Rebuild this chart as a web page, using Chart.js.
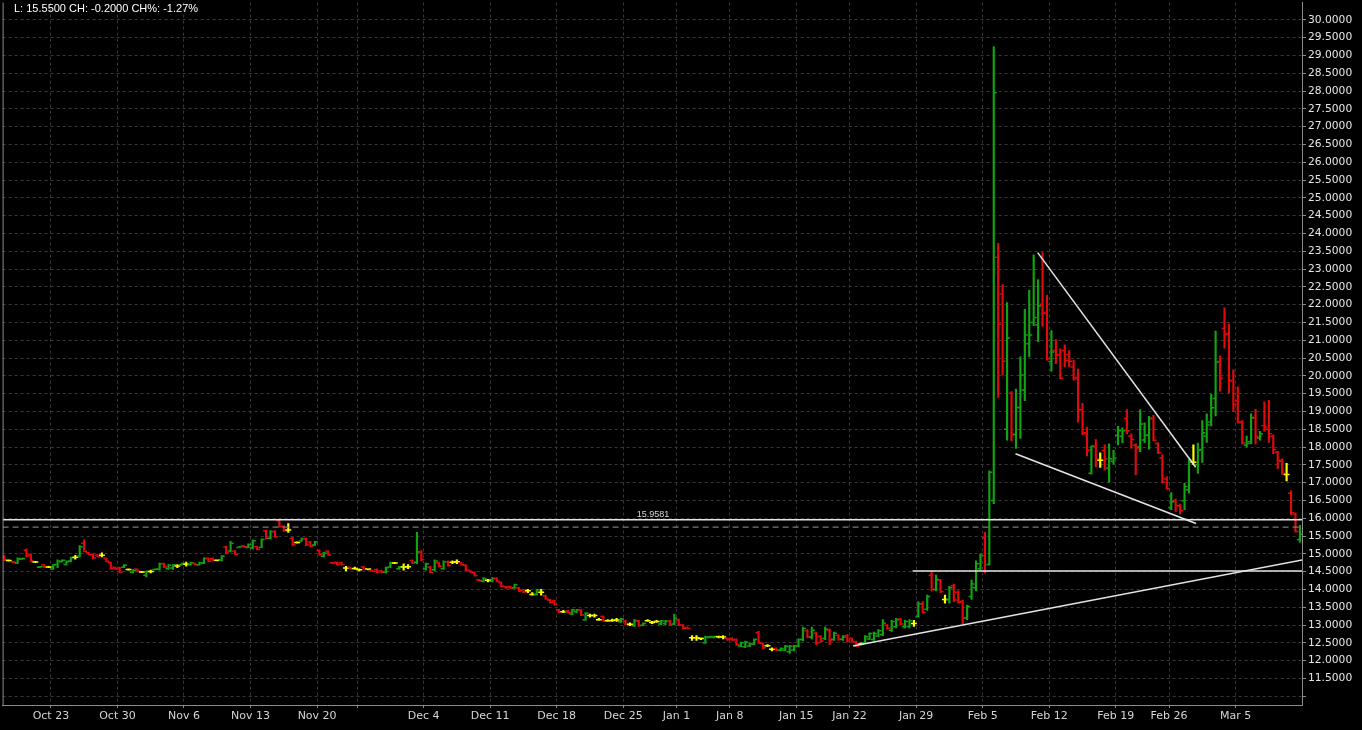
<!DOCTYPE html>
<html>
<head>
<meta charset="utf-8">
<title>VX</title>
<script src="https://cdn.jsdelivr.net/npm/chart.js@4.4.1/dist/chart.umd.min.js"></script>
<style>
  html, body { margin: 0; padding: 0; background: #000; overflow: hidden; }
  canvas { display: block; }
</style>
</head>
<body>
<canvas id="vxChart" width="1362" height="730"></canvas>
<script>
// Barres OHLC (3 barres par séance)
var opens = [
    14.93,14.81,14.78,14.74,14.85,15.10,14.97,14.77,14.62,14.69,
    14.63,14.57,14.70,14.78,14.70,14.80,14.90,14.93,15.30,15.03,
    14.98,14.96,14.96,14.88,14.75,14.62,14.60,14.62,14.56,14.48,
    14.57,14.49,14.40,14.50,14.56,14.56,14.72,14.58,14.60,14.66,
    14.69,14.71,14.69,14.73,14.69,14.74,14.87,14.86,14.82,14.82,
    15.19,15.08,15.08,15.18,15.22,15.18,15.16,15.20,15.18,15.65,
    15.44,15.63,15.93,15.77,15.67,15.44,15.32,15.36,15.42,15.33,
    15.25,15.09,14.93,15.08,14.75,14.76,14.75,14.60,14.62,14.59,
    14.55,14.63,14.57,14.53,14.55,14.52,14.48,14.63,14.74,14.58,
    14.63,14.64,14.81,14.76,15.05,14.57,14.62,14.55,14.75,14.58,
    14.78,14.76,14.78,14.75,14.68,14.53,14.47,14.27,14.23,14.26,
    14.23,14.31,14.19,14.08,14.08,14.05,14.04,13.99,13.96,13.86,
    13.86,13.92,13.82,13.70,13.69,13.43,13.37,13.39,13.31,13.37,
    13.42,13.15,13.27,13.27,13.15,13.24,13.12,13.13,13.14,13.09,
    13.11,13.02,12.98,13.11,12.99,13.12,13.07,13.10,13.03,13.04,
    13.11,13.03,13.15,12.99,12.93,12.64,12.64,12.62,12.50,12.65,
    12.65,12.67,12.66,12.63,12.62,12.59,12.41,12.39,12.41,12.47,
    12.78,12.48,12.42,12.32,12.34,12.29,12.29,12.25,12.30,12.41,
    12.59,12.84,12.66,12.77,12.68,12.62,12.85,12.60,12.71,12.59,
    12.70,12.62,12.52,12.47,12.50,12.61,12.59,12.69,12.73,12.99,
    12.85,12.95,13.17,12.95,12.96,13.04,13.24,13.60,13.44,14.40,
    14.00,14.25,13.72,13.72,14.10,13.92,13.66,13.20,13.80,14.05,
    14.58,15.45,14.70,16.50,23.33,22.30,18.50,19.51,18.35,19.11,
    19.60,20.90,21.50,21.43,22.01,21.76,20.40,20.71,20.60,20.71,
    20.60,20.25,19.95,19.05,18.40,17.26,18.00,17.63,17.90,17.40,
    17.60,18.33,18.30,18.80,18.30,18.05,18.00,18.20,18.33,18.80,
    18.10,17.70,17.10,16.30,16.50,16.35,16.49,16.80,17.57,17.50,
    17.93,18.30,18.70,19.36,20.40,21.33,21.19,19.87,19.30,18.70,
    18.06,18.15,18.81,18.25,18.60,18.50,18.30,17.85,17.60,17.23,
    16.70,16.12,15.40
];
var highs = [
    14.95,14.83,14.79,14.89,14.88,15.14,15.00,14.79,14.65,14.70,
    14.65,14.70,14.83,14.83,14.80,14.91,14.96,15.23,15.39,15.04,
    15.00,14.98,15.03,14.89,14.77,14.63,14.63,14.70,14.58,14.56,
    14.58,14.51,14.52,14.54,14.58,14.74,14.74,14.70,14.70,14.70,
    14.74,14.77,14.77,14.74,14.77,14.89,14.89,14.89,14.83,14.95,
    15.22,15.35,15.09,15.20,15.23,15.28,15.39,15.22,15.42,15.67,
    15.65,15.65,15.96,15.79,15.85,15.46,15.34,15.44,15.44,15.35,
    15.35,15.11,15.05,15.09,14.76,14.77,14.77,14.65,14.63,14.63,
    14.58,14.65,14.58,14.54,14.58,14.54,14.63,14.77,14.76,14.65,
    14.72,14.70,14.83,15.60,15.09,14.74,14.65,14.83,14.77,14.80,
    14.80,14.80,14.83,14.76,14.70,14.54,14.49,14.28,14.33,14.28,
    14.33,14.33,14.21,14.09,14.09,14.15,14.06,14.00,14.00,13.91,
    14.00,14.00,13.84,13.72,13.70,13.44,13.41,13.41,13.44,13.44,
    13.44,13.35,13.31,13.31,13.19,13.26,13.15,13.17,13.19,13.19,
    13.13,13.06,13.15,13.13,13.06,13.15,13.10,13.13,13.13,13.13,
    13.13,13.31,13.17,13.01,12.94,12.70,12.70,12.64,12.69,12.69,
    12.69,12.69,12.70,12.64,12.64,12.61,12.52,12.55,12.50,12.61,
    12.82,12.50,12.45,12.36,12.36,12.36,12.43,12.43,12.43,12.61,
    12.94,12.87,12.94,12.80,12.70,12.94,12.89,12.80,12.73,12.70,
    12.73,12.64,12.55,12.50,12.70,12.78,12.80,12.87,13.15,13.01,
    13.13,13.19,13.19,13.13,13.15,13.13,13.66,13.66,13.84,14.52,
    14.40,14.28,13.84,14.09,14.15,13.96,13.70,13.56,14.26,14.80,
    15.00,15.60,17.33,29.25,23.72,22.56,22.06,19.56,19.63,20.53,
    21.87,22.40,23.40,22.70,23.46,22.26,21.27,21.02,20.76,20.87,
    20.71,20.44,20.19,19.23,18.56,18.03,18.21,17.84,18.06,18.09,
    17.91,18.58,18.54,19.05,18.37,18.09,19.05,18.68,18.86,18.89,
    18.12,17.79,17.17,16.72,16.54,16.40,16.98,17.65,18.06,18.11,
    18.74,18.93,19.48,21.26,20.56,21.91,21.46,20.17,19.69,18.74,
    18.31,18.93,19.06,18.44,19.27,19.31,18.34,17.88,17.67,17.54,
    16.77,16.15,15.80
];
var lows = [
    14.81,14.79,14.75,14.72,14.84,14.91,14.77,14.75,14.61,14.61,
    14.61,14.56,14.61,14.77,14.68,14.77,14.85,14.91,15.05,14.97,
    14.86,14.91,14.91,14.77,14.56,14.56,14.46,14.61,14.54,14.46,
    14.49,14.47,14.35,14.46,14.55,14.54,14.61,14.56,14.56,14.61,
    14.68,14.65,14.68,14.68,14.68,14.72,14.77,14.80,14.80,14.80,
    15.00,15.05,14.98,15.18,15.19,15.17,15.14,15.11,15.17,15.42,
    15.42,15.46,15.75,15.63,15.60,15.23,15.30,15.35,15.23,15.20,
    15.23,14.96,14.91,14.96,14.72,14.68,14.68,14.52,14.56,14.56,
    14.52,14.56,14.55,14.49,14.46,14.46,14.46,14.61,14.72,14.56,
    14.54,14.58,14.72,14.72,14.81,14.54,14.46,14.52,14.63,14.56,
    14.65,14.72,14.72,14.68,14.52,14.48,14.37,14.24,14.21,14.21,
    14.21,14.21,14.07,14.03,14.03,14.03,13.94,13.91,13.91,13.84,
    13.84,13.84,13.72,13.61,13.56,13.35,13.35,13.33,13.29,13.35,
    13.26,13.13,13.22,13.22,13.13,13.10,13.10,13.10,13.10,13.07,
    13.01,12.98,12.96,12.96,12.98,13.10,13.04,13.07,13.01,13.01,
    12.98,13.01,12.98,12.89,12.89,12.57,12.57,12.59,12.48,12.64,
    12.64,12.64,12.61,12.57,12.57,12.43,12.39,12.36,12.39,12.45,
    12.48,12.33,12.39,12.27,12.27,12.27,12.27,12.20,12.27,12.39,
    12.55,12.64,12.61,12.45,12.52,12.59,12.45,12.57,12.57,12.57,
    12.52,12.52,12.39,12.44,12.48,12.59,12.57,12.67,12.70,12.89,
    12.82,12.92,13.01,12.92,12.92,12.96,13.22,13.33,13.41,13.96,
    13.96,13.91,13.61,13.61,13.66,13.61,13.04,13.15,13.72,13.96,
    14.54,14.46,14.68,16.41,19.39,20.02,18.19,18.17,17.96,18.24,
    19.30,20.53,21.41,20.96,21.39,20.44,20.13,20.34,19.91,20.25,
    20.25,19.88,18.70,18.35,17.75,17.24,17.44,17.43,17.35,17.01,
    17.52,18.06,18.12,18.37,17.96,17.22,17.87,18.12,17.94,18.17,
    17.81,17.00,16.81,16.24,16.19,16.12,16.24,16.70,17.51,17.26,
    17.57,18.13,18.59,18.87,19.57,20.78,19.52,18.99,18.68,18.09,
    18.00,18.09,18.09,18.19,18.44,18.13,17.81,17.39,17.23,17.05,
    16.09,15.61,15.33
];
var closes = [
    14.83,14.81,14.76,14.87,14.87,14.94,14.80,14.77,14.64,14.63,
    14.63,14.69,14.80,14.82,14.78,14.89,14.90,15.20,15.07,14.98,
    14.88,14.92,14.96,14.79,14.58,14.57,14.49,14.68,14.56,14.54,
    14.51,14.49,14.50,14.50,14.57,14.72,14.63,14.68,14.69,14.66,
    14.73,14.71,14.75,14.69,14.75,14.87,14.79,14.81,14.82,14.93,
    15.02,15.30,14.99,15.20,15.20,15.26,15.37,15.12,15.40,15.44,
    15.62,15.48,15.77,15.65,15.67,15.26,15.32,15.43,15.25,15.22,
    15.33,14.98,15.02,14.97,14.73,14.70,14.70,14.60,14.58,14.59,
    14.55,14.58,14.57,14.50,14.49,14.49,14.61,14.74,14.74,14.64,
    14.63,14.64,14.74,15.05,14.84,14.72,14.48,14.80,14.65,14.78,
    14.67,14.76,14.78,14.69,14.54,14.49,14.39,14.25,14.31,14.26,
    14.31,14.23,14.09,14.05,14.04,14.13,13.96,13.93,13.96,13.86,
    13.98,13.92,13.74,13.63,13.58,13.37,13.37,13.35,13.42,13.42,
    13.28,13.33,13.27,13.27,13.15,13.12,13.12,13.13,13.14,13.17,
    13.03,13.02,13.13,12.98,13.04,13.12,13.07,13.10,13.11,13.11,
    13.00,13.19,13.00,12.91,12.90,12.64,12.64,12.62,12.67,12.68,
    12.68,12.67,12.66,12.59,12.58,12.45,12.50,12.52,12.48,12.59,
    12.50,12.36,12.42,12.32,12.29,12.34,12.40,12.40,12.41,12.59,
    12.90,12.66,12.85,12.50,12.55,12.88,12.56,12.77,12.60,12.66,
    12.55,12.54,12.41,12.47,12.67,12.76,12.76,12.84,13.05,12.91,
    13.10,13.15,13.03,13.10,13.12,13.04,13.60,13.36,13.80,14.00,
    14.28,13.94,13.72,14.05,13.70,13.64,13.20,13.52,14.15,14.72,
    14.95,14.52,17.29,27.95,21.45,20.41,21.06,18.35,19.11,20.02,
    21.15,21.15,21.64,21.96,21.76,20.48,20.67,20.59,19.93,20.44,
    20.41,19.91,19.05,18.37,17.91,18.03,17.66,17.63,17.66,17.66,
    17.69,18.46,18.46,18.46,18.21,17.96,18.65,18.33,18.80,18.19,
    17.84,17.02,16.83,16.46,16.35,16.21,16.89,17.63,17.57,17.91,
    18.40,18.62,19.10,20.38,19.94,21.17,19.87,19.20,18.69,18.11,
    18.10,18.83,18.30,18.37,18.56,18.37,17.93,17.63,17.26,17.23,
    16.15,15.63,15.55
];

// Axe du temps : première barre de chaque semaine
var weekLabels = ['Oct 23', 'Oct 30', 'Nov 6', 'Nov 13', 'Nov 20', '', 'Dec 4', 'Dec 11', 'Dec 18', 'Dec 25',
                  'Jan 1', 'Jan 8', 'Jan 15', 'Jan 22', 'Jan 29', 'Feb 5', 'Feb 12', 'Feb 19', 'Feb 26', 'Mar 5'];
var weekStartBar = [11, 26, 41, 56, 71, 80, 95, 110, 125, 140, 152, 164, 179, 191, 206, 221, 236, 251, 263, 278];

var priceTicks = [11.0, 11.5, 12.0, 12.5, 13.0, 13.5, 14.0, 14.5, 15.0, 15.5, 16.0, 16.5, 17.0, 17.5, 18.0,
                  18.5, 19.0, 19.5, 20.0, 20.5, 21.0, 21.5, 22.0, 22.5, 23.0, 23.5, 24.0, 24.5, 25.0, 25.5,
                  26.0, 26.5, 27.0, 27.5, 28.0, 28.5, 29.0, 29.5, 30.0];

// Lignes tracées sur le graphique
var prevSettle = 15.75;
var markLevel = 15.9581;
var markLabelBar = 146.2;
var supportLevel = 14.52;
var supportFromBar = 204.7;
var risingLine = [[191.3, 12.41], [292.5, 14.83]];
var wedgeTop = [[232.9, 23.46], [268.5, 17.43]];
var wedgeBottom = [[227.9, 17.81], [268.6, 15.85]];

var X_MIN = -0.382, X_MAX = 292.47;
var Y_MIN = 10.753, Y_MAX = 30.484;

var upColor = '#12a312';
var downColor = '#e10a0a';
var flatColor = '#ffff00';
var lineColor = '#e4e4e4';

function toPoints(pairs) {
    return pairs.map(function(p) { return { x: p[0], y: p[1] }; });
}

document.addEventListener('DOMContentLoaded', function() {
    var ctx = document.getElementById('vxChart').getContext('2d');

    var barColors = opens.map(function(o, i) {
        if (closes[i] > o) return upColor;
        if (closes[i] < o) return downColor;
        return flatColor;
    });

    var rangeData = highs.map(function(h, i) { return { x: i, y: [lows[i], h] }; });
    var openData = opens.map(function(o, i) { return { x: i - 0.42, y: o }; });
    var closeData = closes.map(function(c, i) { return { x: i + 0.42, y: c }; });

    var lastClose = closes[closes.length - 1];
    var change = lastClose - prevSettle;
    var headerText = 'L: ' + lastClose.toFixed(4) + ' CH: ' + change.toFixed(4) +
        ' CH%: ' + (change / prevSettle * 100).toFixed(2) + '%';

    // Texte d'en-tête, étiquette de niveau et bord gauche
    var overlayPlugin = {
        id: 'overlay',
        afterDraw: function(chart) {
            var c = chart.ctx;
            var area = chart.chartArea;
            var xs = chart.scales.x;
            var ys = chart.scales.y;
            c.save();
            c.strokeStyle = '#8c8c8c';
            c.lineWidth = 1;
            c.beginPath();
            c.moveTo(area.left + 0.5, area.top);
            c.lineTo(area.left + 0.5, area.bottom);
            c.stroke();

            c.font = '9px "Liberation Sans", Arial, sans-serif';
            c.fillStyle = '#d8d8d8';
            c.textAlign = 'center';
            c.textBaseline = 'alphabetic';
            c.fillText(markLevel.toFixed(4), xs.getPixelForValue(markLabelBar), ys.getPixelForValue(markLevel) - 2.5);

            c.font = '11px "Liberation Sans", Arial, sans-serif';
            c.fillStyle = '#ffffff';
            c.textAlign = 'left';
            c.fillText(headerText, 14, 12);
            c.restore();
        }
    };

    new Chart(ctx, {
        type: 'scatter',
        data: {
            datasets: [
                {
                    type: 'scatter', label: 'mark', order: 0,
                    data: toPoints([[X_MIN, markLevel], [X_MAX, markLevel]]),
                    showLine: true, borderColor: lineColor, borderWidth: 1.5, pointRadius: 0
                },
                {
                    type: 'scatter', label: 'settle', order: 0,
                    data: toPoints([[X_MIN, prevSettle], [X_MAX, prevSettle]]),
                    showLine: true, borderColor: '#7a7a7a', borderWidth: 1.2, borderDash: [6, 4], pointRadius: 0
                },
                {
                    type: 'scatter', label: 'support', order: 0,
                    data: toPoints([[supportFromBar, supportLevel], [X_MAX, supportLevel]]),
                    showLine: true, borderColor: lineColor, borderWidth: 1.5, pointRadius: 0
                },
                {
                    type: 'scatter', label: 'rising', order: 0,
                    data: toPoints(risingLine),
                    showLine: true, borderColor: lineColor, borderWidth: 1.5, pointRadius: 0
                },
                {
                    type: 'scatter', label: 'wedgeTop', order: 0,
                    data: toPoints(wedgeTop),
                    showLine: true, borderColor: lineColor, borderWidth: 1.5, pointRadius: 0
                },
                {
                    type: 'scatter', label: 'wedgeBottom', order: 0,
                    data: toPoints(wedgeBottom),
                    showLine: true, borderColor: lineColor, borderWidth: 1.5, pointRadius: 0
                },
                {
                    type: 'scatter', label: 'open', order: 1,
                    data: openData,
                    pointStyle: 'line', pointRadius: 1.1, pointHoverRadius: 1.1,
                    pointBorderWidth: 1.5, pointBorderColor: barColors, pointBackgroundColor: barColors
                },
                {
                    type: 'scatter', label: 'close', order: 1,
                    data: closeData,
                    pointStyle: 'line', pointRadius: 1.1, pointHoverRadius: 1.1,
                    pointBorderWidth: 1.5, pointBorderColor: barColors, pointBackgroundColor: barColors
                },
                {
                    type: 'bar', label: 'range', order: 2,
                    data: rangeData,
                    backgroundColor: barColors,
                    borderWidth: 0,
                    barThickness: 1.5,
                    minBarLength: 1,
                    grouped: false
                }
            ]
        },
        options: {
            responsive: false,
            animation: false,
            devicePixelRatio: 1,
            events: [],
            layout: { padding: 0 },
            plugins: {
                legend: { display: false },
                tooltip: { enabled: false }
            },
            scales: {
                x: {
                    type: 'linear',
                    position: 'bottom',
                    min: X_MIN,
                    max: X_MAX,
                    offset: false,
                    afterBuildTicks: function(scale) {
                        scale.ticks = weekStartBar.map(function(b) { return { value: b - 0.5 }; });
                    },
                    afterFit: function(scale) {
                        scale.height = 25;
                        scale.paddingLeft = 0;
                        scale.paddingRight = 0;
                    },
                    ticks: {
                        autoSkip: false,
                        maxRotation: 0,
                        padding: 2,
                        color: '#d4d4d4',
                        font: { family: 'DejaVu Sans', size: 11 },
                        callback: function(value, index) { return weekLabels[index]; }
                    },
                    grid: { color: '#383838', tickColor: '#8c8c8c', tickLength: 3, offset: false },
                    border: { color: '#8c8c8c', dash: [3, 3] }
                },
                y: {
                    type: 'linear',
                    position: 'right',
                    min: Y_MIN,
                    max: Y_MAX,
                    afterBuildTicks: function(scale) {
                        scale.ticks = priceTicks.map(function(v) { return { value: v }; });
                    },
                    afterFit: function(scale) {
                        scale.width = 60;
                        scale.paddingTop = 0;
                        scale.paddingBottom = 0;
                    },
                    ticks: {
                        autoSkip: false,
                        padding: 2,
                        color: '#e6e6e6',
                        font: { family: 'DejaVu Sans', size: 10.7 },
                        callback: function(value) { return value < 11.25 ? '' : value.toFixed(4); }
                    },
                    grid: { color: '#383838', tickColor: '#8c8c8c', tickLength: 4 },
                    border: { color: '#8c8c8c', dash: [3, 3] }
                }
            }
        },
        plugins: [overlayPlugin]
    });
});
</script>
</body>
</html>
